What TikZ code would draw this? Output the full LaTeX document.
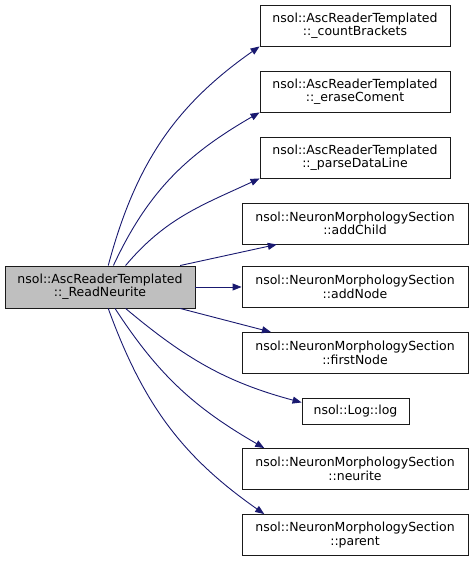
\documentclass[tikz,border=0pt]{standalone}
\usepackage{fontspec}
\setmainfont{DejaVu Sans}
\usetikzlibrary{arrows.meta, positioning}
\definecolor{lien}{HTML}{191970}
\definecolor{fondgris}{HTML}{BFBFBF}
\definecolor{bord}{HTML}{1A1A1A}
\tikzset{
  boite/.style={rectangle, draw=bord, fill=white, font=\fontsize{12.5}{13.4}\selectfont,
    align=center, minimum height=41pt, inner sep=0pt, line width=0.9pt},
  boiteasc/.style={boite, minimum width=190pt},
  boitenms/.style={boite, minimum width=226pt},
  boitecourante/.style={boiteasc, fill=fondgris, minimum height=42pt},
  appel/.style={-{Triangle[length=9pt, width=7pt]}, color=lien, line width=0.9pt}
}

\begin{document}
\begin{tikzpicture}[x=1pt, y=1pt]
    \useasboundingbox (0, 0) rectangle (473, 561);

    \node[boitecourante] (lire) at (100, 274)   {nsol::AscReaderTemplated\\ ::\_ReadNeurite};

    \node[boiteasc] (compte) at (355, 535.5)    {nsol::AscReaderTemplated\\ ::\_countBrackets};
    \node[boiteasc] (efface) at (355, 469.5)    {nsol::AscReaderTemplated\\ ::\_eraseComent};
    \node[boiteasc] (ligne) at (355, 403.5)     {nsol::AscReaderTemplated\\ ::\_parseDataLine};
    \node[boitenms] (enfant) at (355, 337.5)    {nsol::NeuronMorphologySection\\ ::addChild};
    \node[boitenms] (noeud) at (355, 274)       {nsol::NeuronMorphologySection\\ ::addNode};
    \node[boitenms] (premier) at (355, 208)     {nsol::NeuronMorphologySection\\ ::firstNode};
    \node[boite, minimum width=107pt, minimum height=26pt] (journal) at (355.5, 150) {nsol::Log::log};
    \node[boitenms] (neurite) at (355, 92)      {nsol::NeuronMorphologySection\\ ::neurite};
    \node[boitenms] (parent) at (355, 26)       {nsol::NeuronMorphologySection\\ ::parent};

    \draw[appel] (lire.69) to[out=75, in=215] (compte.south west);
    \draw[appel] (lire.58) to[out=65, in=210] (efface.south west);
    \draw[appel] (lire.40) to[out=50, in=205] (ligne.south west);
    \draw[appel] (lire.15) -- (enfant.195);
    \draw[appel] (lire.east) -- (noeud.west);
    \draw[appel] (lire.-15) -- (premier.166);
    \draw[appel] (lire.-40) to[out=-40, in=165] (journal.171);
    \draw[appel] (lire.-55) to[out=-57, in=150] (neurite.167);
    \draw[appel] (lire.-69) to[out=-70, in=145] (parent.167);
  \end{tikzpicture}
\end{document}
